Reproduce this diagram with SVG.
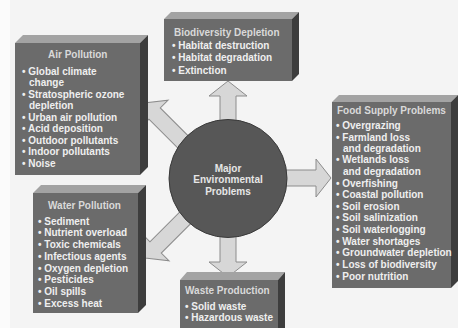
<svg xmlns="http://www.w3.org/2000/svg" width="458" height="328" viewBox="0 0 458 328">
<style>
text{font-family:"Liberation Sans",Arial,sans-serif;font-weight:bold;font-size:10px;fill:#efefef}
.t{fill:#d9d9d9}
.c{text-anchor:middle;fill:#e6e6e6}
.front{fill:#6b6b6b}
.top{fill:#a3a3a3}
.side{fill:#3d3d3d}
.arrow{fill:#d7d7d7;stroke:#8c8c8c;stroke-width:1}
</style>
<defs>
<path id="arr" class="arrow" d="M0,0 L-15,-19 L-15,-8 L-70,-8 L-70,8 L-15,8 L-15,19 Z"/>
</defs>
<rect x="0" y="0" width="458" height="328" fill="#f4f4f4"/>
<rect x="0" y="0" width="10" height="328" fill="#fbfbfb"/>
<g id="connectors">
<use href="#arr" transform="translate(228,81) rotate(-90)"/>
<use href="#arr" transform="translate(331,178)"/>
<use href="#arr" transform="translate(228,277) rotate(90)"/>
<use href="#arr" transform="translate(144,103) rotate(-135)"/>
<use href="#arr" transform="translate(145,258) rotate(135)"/>
</g>
<g id="center">
<circle cx="228" cy="178.5" r="59" fill="#575757" stroke="#3a3a3a" stroke-width="1"/>
<text class="c" x="228" y="171.5">Major</text>
<text class="c" x="228" y="183">Environmental</text>
<text class="c" x="228" y="194.5">Problems</text>
</g>
<g id="air">
<rect class="front" x="15" y="43" width="125" height="132"/>
<polygon class="top" points="15,43 23,35 148,35 140,43"/>
<polygon class="side" points="140,43 148,35 148,167 140,175"/>
<text class="t" x="48" y="57.5">Air Pollution</text>
<text x="22" y="74.5">• Global climate</text>
<text x="29" y="86">change</text>
<text x="22" y="97.5">• Stratospheric ozone</text>
<text x="29" y="109">depletion</text>
<text x="22" y="120.5">• Urban air pollution</text>
<text x="22" y="132">• Acid deposition</text>
<text x="22" y="143.5">• Outdoor pollutants</text>
<text x="22" y="155">• Indoor pollutants</text>
<text x="22" y="166.5">• Noise</text>
</g>
<g id="biodiversity">
<rect class="front" x="164" y="19" width="128" height="62"/>
<polygon class="top" points="164,19 171,12 299,12 292,19"/>
<polygon class="side" points="292,19 299,12 299,74 292,81"/>
<text class="t" x="174" y="35.5">Biodiversity Depletion</text>
<text x="172" y="49">• Habitat destruction</text>
<text x="172" y="60.5">• Habitat degradation</text>
<text x="172" y="73.5">• Extinction</text>
</g>
<g id="food">
<rect class="front" x="332" y="102" width="119" height="186"/>
<polygon class="top" points="332,102 339,95 458,95 451,102"/>
<polygon class="side" points="451,102 458,95 458,281 451,288"/>
<text class="t" x="337" y="113.5">Food Supply Problems</text>
<text x="336" y="128.5">• Overgrazing</text>
<text x="336" y="140.5">• Farmland loss</text>
<text x="343" y="151.5">and degradation</text>
<text x="336" y="162.5">• Wetlands loss</text>
<text x="343" y="174.5">and degradation</text>
<text x="336" y="186.5">• Overfishing</text>
<text x="336" y="197.5">• Coastal pollution</text>
<text x="336" y="209.5">• Soil erosion</text>
<text x="336" y="220.5">• Soil salinization</text>
<text x="336" y="232.5">• Soil waterlogging</text>
<text x="336" y="244.5">• Water shortages</text>
<text x="336" y="255.5">• Groundwater depletion</text>
<text x="336" y="267.5">• Loss of biodiversity</text>
<text x="336" y="279.5">• Poor nutrition</text>
</g>
<g id="water">
<rect class="front" x="33" y="193" width="105" height="120"/>
<polygon class="top" points="33,193 41,185 146,185 138,193"/>
<polygon class="side" points="138,193 146,185 146,305 138,313"/>
<text class="t" x="48" y="208.5">Water Pollution</text>
<text x="38" y="224.5">• Sediment</text>
<text x="38" y="235.5">• Nutrient overload</text>
<text x="38" y="247.5">• Toxic chemicals</text>
<text x="38" y="259.5">• Infectious agents</text>
<text x="38" y="271.5">• Oxygen depletion</text>
<text x="38" y="282.5">• Pesticides</text>
<text x="38" y="294.5">• Oil spills</text>
<text x="38" y="306.5">• Excess heat</text>
</g>
<g id="waste">
<rect class="front" x="180" y="280" width="98" height="60"/>
<polygon class="top" points="180,280 187,272 285,272 278,280"/>
<polygon class="side" points="278,280 285,272 285,340 278,348"/>
<text class="t" x="185" y="293.5">Waste Production</text>
<text x="185" y="309.5">• Solid waste</text>
<text x="185" y="320.5">• Hazardous waste</text>
</g>
</svg>
